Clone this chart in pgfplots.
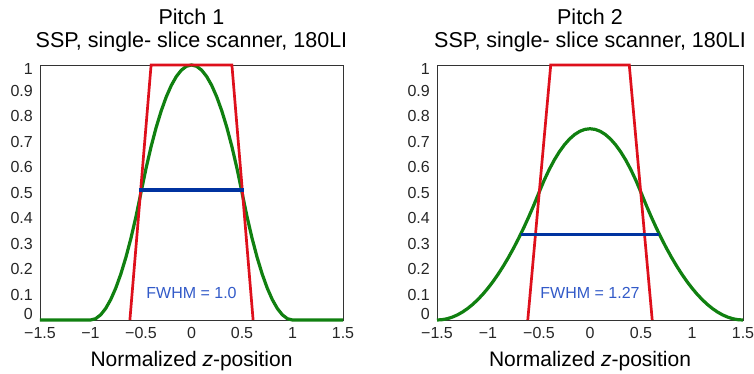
\documentclass[border=0pt]{standalone}
\usepackage{fontspec}
\setmainfont{Liberation Sans}
\usepackage{pgfplots}
\pgfplotsset{compat=1.18}

\definecolor{sspgreen}{RGB}{16,128,16}
\definecolor{sspred}{RGB}{222,16,28}
\definecolor{fwhmline}{RGB}{0,51,160}
\definecolor{fwhmtext}{RGB}{50,90,200}

\pgfplotsset{
  sspaxis/.style={
    scale only axis,
    height=255pt,
    xmin=-1.5, xmax=1.5, ymin=0, ymax=1,
    clip=false,
    axis line style={draw=black!80, line width=0.8pt},
    major tick length=0pt,
    xtick={-1.5,-1,-0.5,0,0.5,1,1.5},
    xticklabels={−1.5,−1,−0.5,0,0.5,1,1.5},
    ytick={0,0.1,0.2,0.3,0.4,0.5,0.6,0.7,0.8,0.9,1},
    % the end labels sit slightly inside the axis range
    yticklabels={\raisebox{6pt}[\height][\depth]{0},0.1,0.2,0.3,0.4,0.5,0.6,0.7,0.8,0.9,\raisebox{-4pt}[\height][\depth]{1}},
    tick label style={font=\fontsize{16}{18}\selectfont, inner sep=0pt, text=black!85},
    xticklabel style={anchor=base, yshift=-19pt},
    yticklabel style={anchor=east, xshift=-7pt},
    title style={at={(0.5,1)}, anchor=south, yshift=7pt, inner sep=0pt,
                 align=center, font=\fontsize{21.5}{23}\selectfont},
    xlabel style={at={(axis description cs:0.5,0)}, anchor=base, yshift=-47pt,
                  inner sep=0pt, font=\fontsize{21}{24}\selectfont},
    xlabel={Normalized \textit{z}-position},
    ssp/.style={sspgreen, line width=3.2pt, line join=round},
    rect/.style={sspred, line width=2.7pt, line join=miter},
    fwhm/.style={fwhmline, line width=3.2pt},
  }
}

\begin{document}
\begin{tikzpicture}

% Pitch 1: slice sensitivity profile with 180-degree linear interpolation
\begin{axis}[sspaxis, width=303pt, title={Pitch 1\\SSP, single- slice scanner, 180LI}]
  \addplot[ssp] coordinates {
    (-1.5,0) (-1,0) (-0.95,0.005) (-0.9,0.02) (-0.85,0.045) (-0.8,0.08)
    (-0.75,0.125) (-0.7,0.18) (-0.65,0.245) (-0.6,0.32) (-0.55,0.405)
    (-0.5,0.5) (-0.45,0.595) (-0.4,0.68) (-0.35,0.755) (-0.3,0.82)
    (-0.25,0.875) (-0.2,0.92) (-0.15,0.955) (-0.1,0.98) (-0.05,0.995)
    (0,1)
    (0.05,0.995) (0.1,0.98) (0.15,0.955) (0.2,0.92) (0.25,0.875)
    (0.3,0.82) (0.35,0.755) (0.4,0.68) (0.45,0.595) (0.5,0.5)
    (0.55,0.405) (0.6,0.32) (0.65,0.245) (0.7,0.18) (0.75,0.125)
    (0.8,0.08) (0.85,0.045) (0.9,0.02) (0.95,0.005) (1,0) (1.5,0)
  };
  % nominal slice profile
  \addplot[rect] coordinates {(-0.61,0) (-0.40,1) (0.40,1) (0.61,0)};
  % full width at half maximum
  \addplot[fwhm] coordinates {(-0.52,0.51) (0.52,0.51)};
  \node[text=fwhmtext, font=\fontsize{16}{18}\selectfont] at (axis cs:0,0.105) {FWHM = 1.0};
\end{axis}

% Pitch 2
\begin{axis}[sspaxis, width=306pt, at={(397pt,0pt)}, anchor=south west,
             title={Pitch 2\\SSP, single- slice scanner, 180LI}]
  \addplot[ssp] coordinates {
    (-1.5,0) (-1.45,0.00125) (-1.4,0.005) (-1.35,0.01125) (-1.3,0.02)
    (-1.25,0.03125) (-1.2,0.045) (-1.15,0.06125) (-1.1,0.08) (-1.05,0.10125)
    (-1,0.125) (-0.95,0.15125) (-0.9,0.18) (-0.85,0.21125) (-0.8,0.245)
    (-0.75,0.28125) (-0.7,0.32) (-0.65,0.36125) (-0.6,0.405) (-0.55,0.45125)
    (-0.5,0.5) (-0.45,0.5475) (-0.4,0.59) (-0.35,0.6275) (-0.3,0.66)
    (-0.25,0.6875) (-0.2,0.71) (-0.15,0.7275) (-0.1,0.74) (-0.05,0.7475)
    (0,0.75)
    (0.05,0.7475) (0.1,0.74) (0.15,0.7275) (0.2,0.71) (0.25,0.6875)
    (0.3,0.66) (0.35,0.6275) (0.4,0.59) (0.45,0.5475) (0.5,0.5)
    (0.55,0.45125) (0.6,0.405) (0.65,0.36125) (0.7,0.32) (0.75,0.28125)
    (0.8,0.245) (0.85,0.21125) (0.9,0.18) (0.95,0.15125) (1,0.125)
    (1.05,0.10125) (1.1,0.08) (1.15,0.06125) (1.2,0.045) (1.25,0.03125)
    (1.3,0.02) (1.35,0.01125) (1.4,0.005) (1.45,0.00125) (1.5,0)
  };
  \addplot[rect] coordinates {(-0.61,0) (-0.385,1) (0.385,1) (0.61,0)};
  \addplot[fwhm] coordinates {(-0.68,0.335) (0.68,0.335)};
  \node[text=fwhmtext, font=\fontsize{16}{18}\selectfont] at (axis cs:0,0.105) {FWHM = 1.27};
\end{axis}

\pgfresetboundingbox
\path (-40pt,-54pt) rectangle (714pt,320pt);
\end{tikzpicture}
\end{document}
